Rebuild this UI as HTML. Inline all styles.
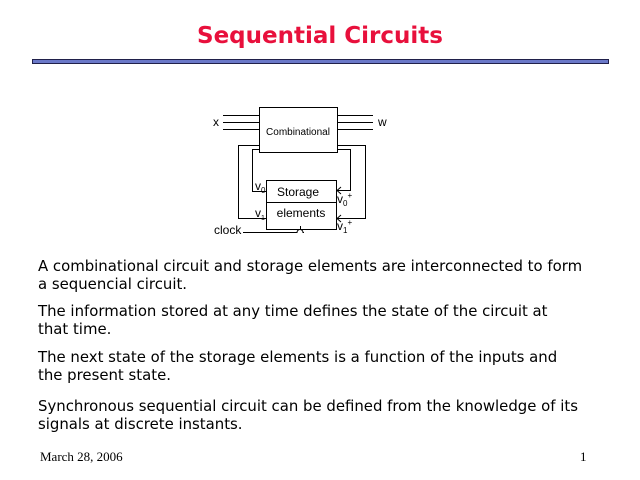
<!DOCTYPE html>
<html><head><meta charset="utf-8"><style>
body{margin:0;width:640px;height:480px;background:#fff;position:relative;overflow:hidden;font-family:"DejaVu Sans","Liberation Sans",sans-serif}
.t{position:absolute;left:38px;font-size:14.9px;white-space:nowrap;color:#000;line-height:18px}
</style></head><body>
<div style="position:absolute;left:0;width:640px;top:23px;text-align:center;font:bold 23px 'DejaVu Sans','Liberation Sans',sans-serif;color:#e8103c">Sequential Circuits</div>
<div style="position:absolute;left:32px;top:59px;width:575px;height:3px;background:#6a78c8;border:1px solid #20204a"></div>
<svg style="position:absolute;left:0;top:0" width="640" height="480" font-family="Liberation Sans, sans-serif" font-size="12">
<g stroke="#000" stroke-width="1" fill="none">
<rect x="259.5" y="107.5" width="78" height="45"/>
<rect x="266.5" y="180.5" width="70" height="49"/>
<line x1="266" y1="202.5" x2="337" y2="202.5"/>
<line x1="223" y1="115.5" x2="259" y2="115.5"/><line x1="223" y1="122.5" x2="259" y2="122.5"/><line x1="223" y1="129.5" x2="259" y2="129.5"/>
<line x1="337" y1="115.5" x2="373" y2="115.5"/><line x1="337" y1="122.5" x2="373" y2="122.5"/><line x1="337" y1="129.5" x2="373" y2="129.5"/>
<polyline points="266,191.5 252.5,191.5 252.5,149.5 259,149.5"/>
<polyline points="266,218.5 238.5,218.5 238.5,145.5 259,145.5"/>
<polyline points="337,149.5 350.5,149.5 350.5,190.5 337,190.5"/>
<polyline points="337,145.5 365.5,145.5 365.5,218.5 337,218.5"/>
<path d="M243 232.5 H297 A3 3 0 0 1 303 232.5 H304"/>
<line x1="300.5" y1="229" x2="300.5" y2="226"/>
<polyline points="341,187 337,190.5 341,194"/><polyline points="341,215 337,218.5 341,222"/>
</g>
<text x="213" y="126">x</text><text x="378" y="126">w</text>
<text x="298" y="135" text-anchor="middle" font-size="10">Combinational</text>
<text x="298" y="196" text-anchor="middle" font-size="12">Storage</text>
<text x="301" y="217" text-anchor="middle" font-size="12">elements</text>
<text x="255" y="190">v<tspan font-size="8" dy="3">0</tspan></text>
<text x="255" y="217">v<tspan font-size="7" dy="3">1</tspan></text>
<text x="337" y="203">v<tspan font-size="8" dy="3">0</tspan><tspan font-size="8" dy="-8">+</tspan></text>
<text x="337" y="230">v<tspan font-size="8" dy="3">1</tspan><tspan font-size="8" dy="-8">+</tspan></text>
<text x="214" y="234">clock</text>
</svg>
<div class="t" style="top:257px">A combinational circuit and storage elements are interconnected to form</div>
<div class="t" style="top:275px">a sequencial circuit.</div>
<div class="t" style="top:302px">The information stored at any time defines the state of the circuit at</div>
<div class="t" style="top:320px">that time.</div>
<div class="t" style="top:348px">The next state of the storage elements is a function of the inputs and</div>
<div class="t" style="top:366px">the present state.</div>
<div class="t" style="top:397px">Synchronous sequential circuit can be defined from the knowledge of its</div>
<div class="t" style="top:415px">signals at discrete instants.</div>
<div style="position:absolute;left:40px;top:449px;font:13px 'Liberation Serif',serif">March 28, 2006</div>
<div style="position:absolute;left:580px;top:449px;font:13px 'Liberation Serif',serif">1</div>
</body></html>
